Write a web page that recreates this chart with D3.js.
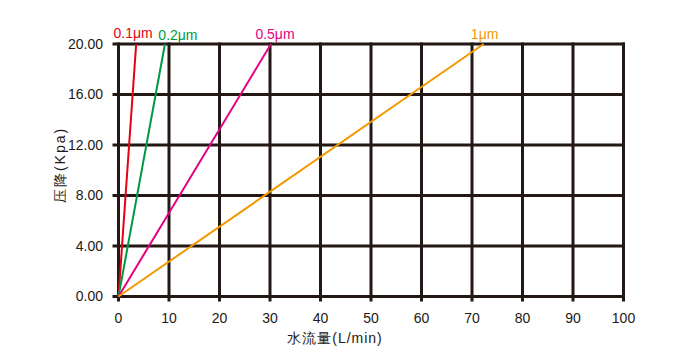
<!DOCTYPE html>
<html><head><meta charset="utf-8">
<script src="https://cdn.jsdelivr.net/npm/d3@7"></script>
<style>body{margin:0;background:#fff}svg{display:block}</style>
</head><body>
<svg id="c" width="700" height="361"></svg>
<script>
const xTicks = [0,10,20,30,40,50,60,70,80,90,100];
const yTicks = [0,4,8,12,16,20];
const seriesNames = ["0.1μm","0.2μm","0.5μm","1μm"];
const seriesColors = ["#e60012","#009944","#e4007f","#f39800"];
const flow01 = [0, 3.5];
const flow02 = [0, 9.2];
const flow05 = [0, 30.2];
const flow1  = [0, 72.3];
const pressure = [0, 20];
const seriesFlows = [flow01, flow02, flow05, flow1];

const svg = d3.select("#c");
const x = d3.scaleLinear().domain([0,100]).range([118.5,623.5]);
const y = d3.scaleLinear().domain([0,20]).range([296.5,44]);
const grid = "#231815";
const font = "Arial, 'Liberation Sans', sans-serif";

const g = svg.append("g");
// vertical grid lines
g.selectAll("line.v").data(xTicks).join("line")
  .attr("x1", d=>x(d)).attr("x2", d=>x(d))
  .attr("y1", y(20)-1.5).attr("y2", y(0)+5)
  .attr("stroke", grid).attr("stroke-width", 3);
// horizontal grid lines
g.selectAll("line.h").data(yTicks).join("line")
  .attr("x1", x(0)-6).attr("x2", x(100)+1.5)
  .attr("y1", d=>y(d)).attr("y2", d=>y(d))
  .attr("stroke", grid).attr("stroke-width", 3);

// tick labels
svg.append("g").selectAll("text").data(yTicks).join("text")
  .attr("x", 103).attr("y", d=>y(d)).attr("dy","0.35em")
  .attr("text-anchor","end").attr("font-family",font).attr("font-size",14)
  .attr("fill","#231815").text(d=>d.toFixed(2));
svg.append("g").selectAll("text").data(xTicks).join("text")
  .attr("x", d=>x(d)).attr("y", 323)
  .attr("text-anchor","middle").attr("font-family",font).attr("font-size",14)
  .attr("fill","#231815").text(d=>d);

// axis titles
svg.append("text").attr("x", 335).attr("y", 343).attr("text-anchor","middle")
  .attr("font-family",font).attr("font-size",14).attr("fill","#231815")
  .attr("letter-spacing","1px")
  .text("水流量(L/min)");
svg.append("text").attr("transform","translate(65,165) rotate(-90)")
  .attr("text-anchor","middle").attr("font-family",font).attr("font-size",14)
  .attr("fill","#231815").attr("letter-spacing","2px")
  .text("压降(Kpa)");

// series lines
const line = d3.line().x(d=>x(d[0])).y(d=>y(d[1]));
seriesFlows.forEach((f,i)=>{
  const pts = f.map((v,j)=>[v, pressure[j]]);
  svg.append("path").attr("d", line(pts)).attr("fill","none")
    .attr("stroke", seriesColors[i]).attr("stroke-width", 2);
});
// series labels
const labelDx = [-3, 13, 4, 1];
const labelDy = [-6, -4, -5, -5];
seriesFlows.forEach((f,i)=>{
  svg.append("text").attr("x", x(f[1]) + labelDx[i]).attr("y", y(20) + labelDy[i])
    .attr("text-anchor","middle").attr("font-family",font).attr("font-size",14)
    .attr("fill", seriesColors[i]).text(seriesNames[i]);
});
</script>
</body></html>
